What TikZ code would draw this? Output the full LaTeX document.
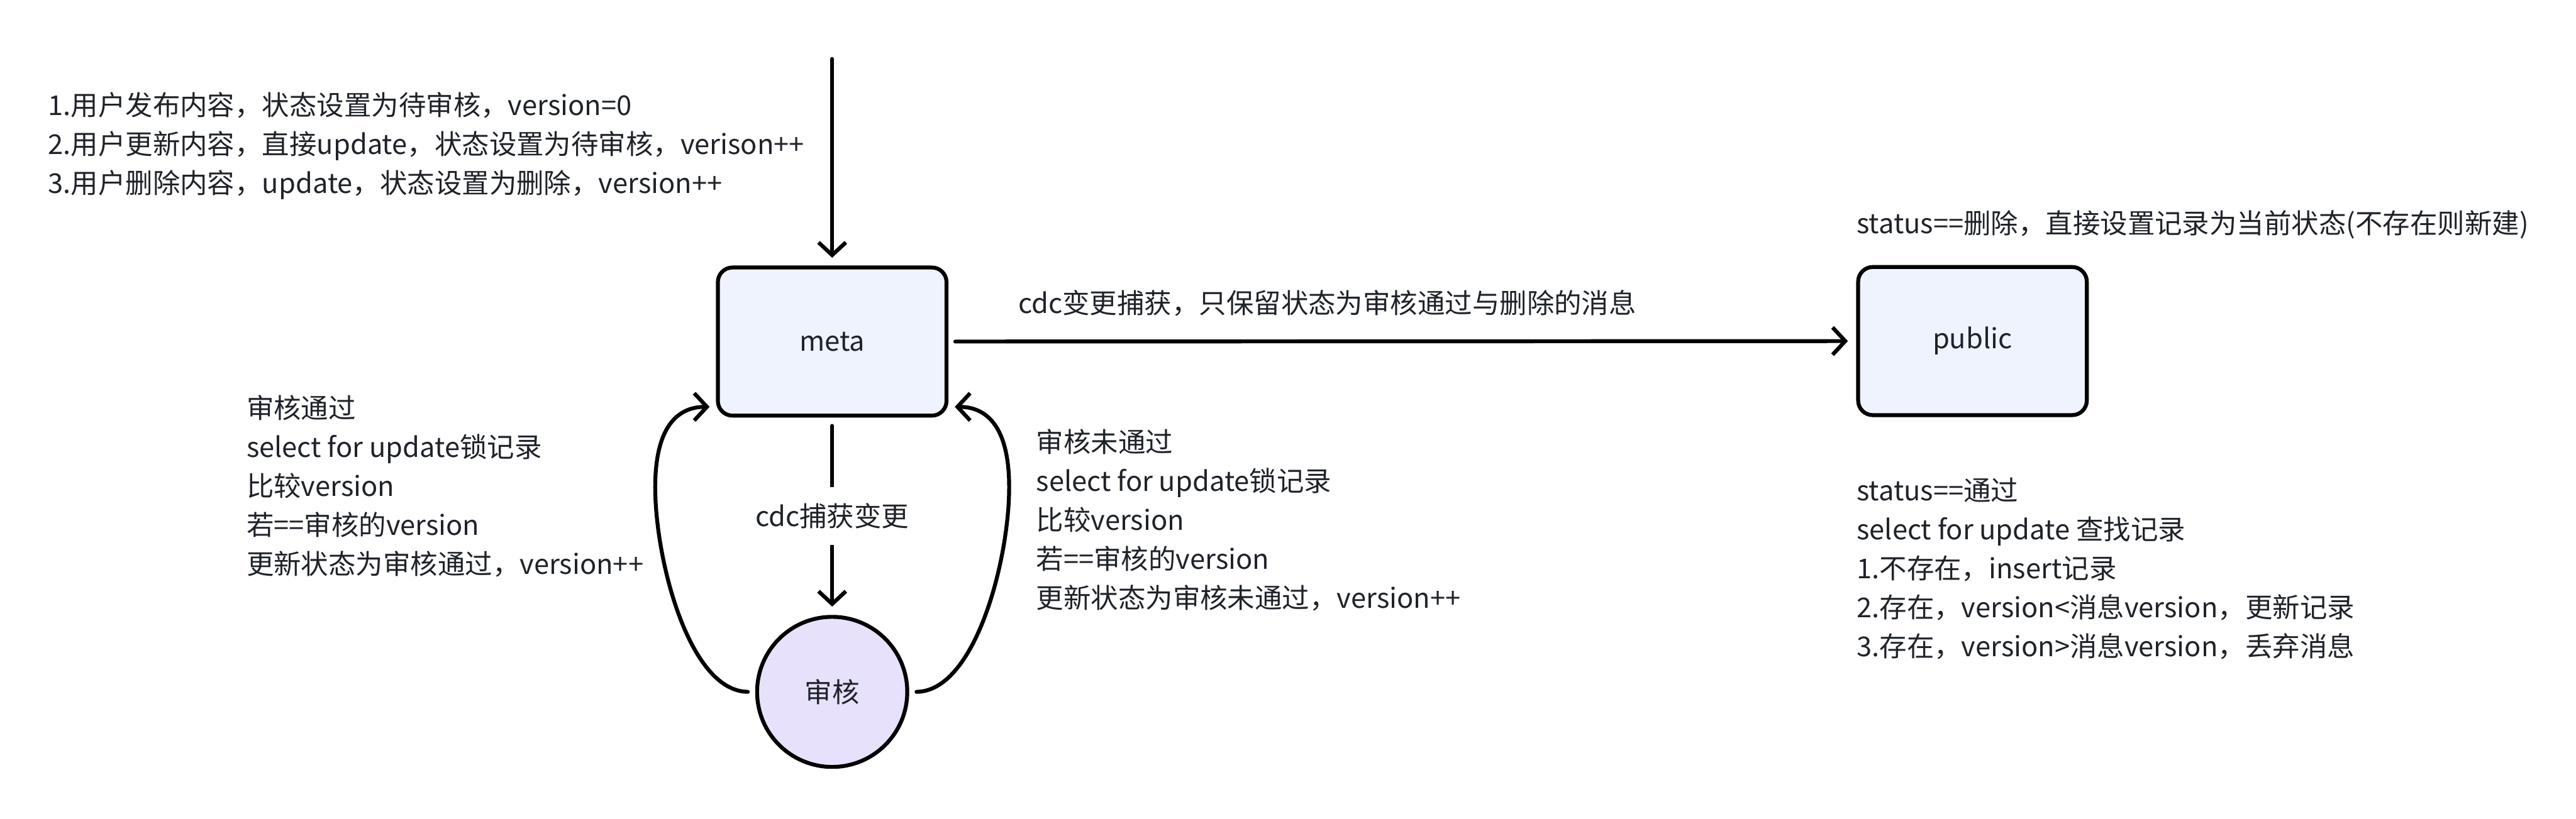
\documentclass[tikz,border=0pt]{standalone}
\usepackage{fontspec}
\setmainfont{Noto Sans CJK SC}
\usetikzlibrary{arrows.meta,calc}
\definecolor{txt}{HTML}{1F2329}
\definecolor{boxfill}{HTML}{EEF3FD}
\definecolor{circfill}{HTML}{E8E1FC}
\begin{document}
\begin{tikzpicture}[x=1cm,y=-1cm,
  box/.style={draw=black, line width=0.08cm, rounded corners=0.3cm, fill=boxfill,
    minimum width=4.69cm, minimum height=3.04cm, text=txt, font=\fontsize{15.95pt}{22.76pt}\selectfont},
  circ/.style={draw=black, line width=0.08cm, circle, fill=circfill, minimum size=3.08cm,
    text=txt, font=\fontsize{15.95pt}{22.76pt}\selectfont},
  conn/.style={draw=black, line width=0.08cm, line cap=round,
    -{Straight Barb[length=0.26cm,width=0.56cm]}},
  lbl/.style={text=txt, align=left, inner sep=0pt, font=\fontsize{15.95pt}{22.76pt}\selectfont}]
\useasboundingbox (0,0) rectangle (52.84,16.80);

\node[box] (meta) at (17.07,7.01) {meta};
\node[box] (public) at (40.46,7.00) {public};
\node[circ] (audit) at (17.07,14.20) {审核};
\coordinate (src) at (17.07,1.21);

\draw[conn, shorten >=0.16cm] (src) -- (meta.north);
\draw[conn, shorten <=0.17cm, shorten >=0.17cm] (meta.south) --
  node[lbl, fill=white, inner xsep=0.1cm, inner ysep=0.33cm] (cdclbl) {cdc捕获变更} (audit.north);
\draw[conn, shorten <=0.14cm, shorten >=0.17cm] (meta.east) -- (public.west);

\draw[conn, shorten <=0.15cm, shorten >=0.13cm] (audit.west)
  .. controls (14.14,14.19) and (13.44,11.5) .. (13.44,10.0)
  .. controls (13.44,8.7) and (13.94,8.35) .. ([yshift=0.22cm]meta.south west);
\draw[conn, shorten <=0.15cm, shorten >=0.13cm] (audit.east)
  .. controls (20.0,14.19) and (20.70,11.5) .. (20.70,10.0)
  .. controls (20.70,8.7) and (20.20,8.35) .. ([yshift=0.22cm]meta.south east);

\node[lbl, anchor=west] (intro) at (0.98,3.00) {1.用户发布内容，状态设置为待审核，version=0\\
2.用户更新内容，直接update，状态设置为待审核，verison++\\
3.用户删除内容，update，状态设置为删除，version++};

\node[lbl, anchor=west] (cdcmsg) at (20.88,6.22) {cdc变更捕获，只保留状态为审核通过与删除的消息};

\node[lbl, anchor=west] (pass) at (5.05,9.98) {审核通过\\
select for update锁记录\\
比较version\\
若==审核的version\\
更新状态为审核通过，version++};

\node[lbl, anchor=west] (reject) at (21.25,10.67) {审核未通过\\
select for update锁记录\\
比较version\\
若==审核的version\\
更新状态为审核未通过，version++};

\node[lbl, anchor=west] (del) at (38.08,4.61) {status==删除，直接设置记录为当前状态(不存在则新建)};

\node[lbl, anchor=west] (ok) at (38.08,11.67) {status==通过\\
select for update 查找记录\\
1.不存在，insert记录\\
2.存在，version<消息version，更新记录\\
3.存在，version>消息version，丢弃消息};
\end{tikzpicture}
\end{document}
